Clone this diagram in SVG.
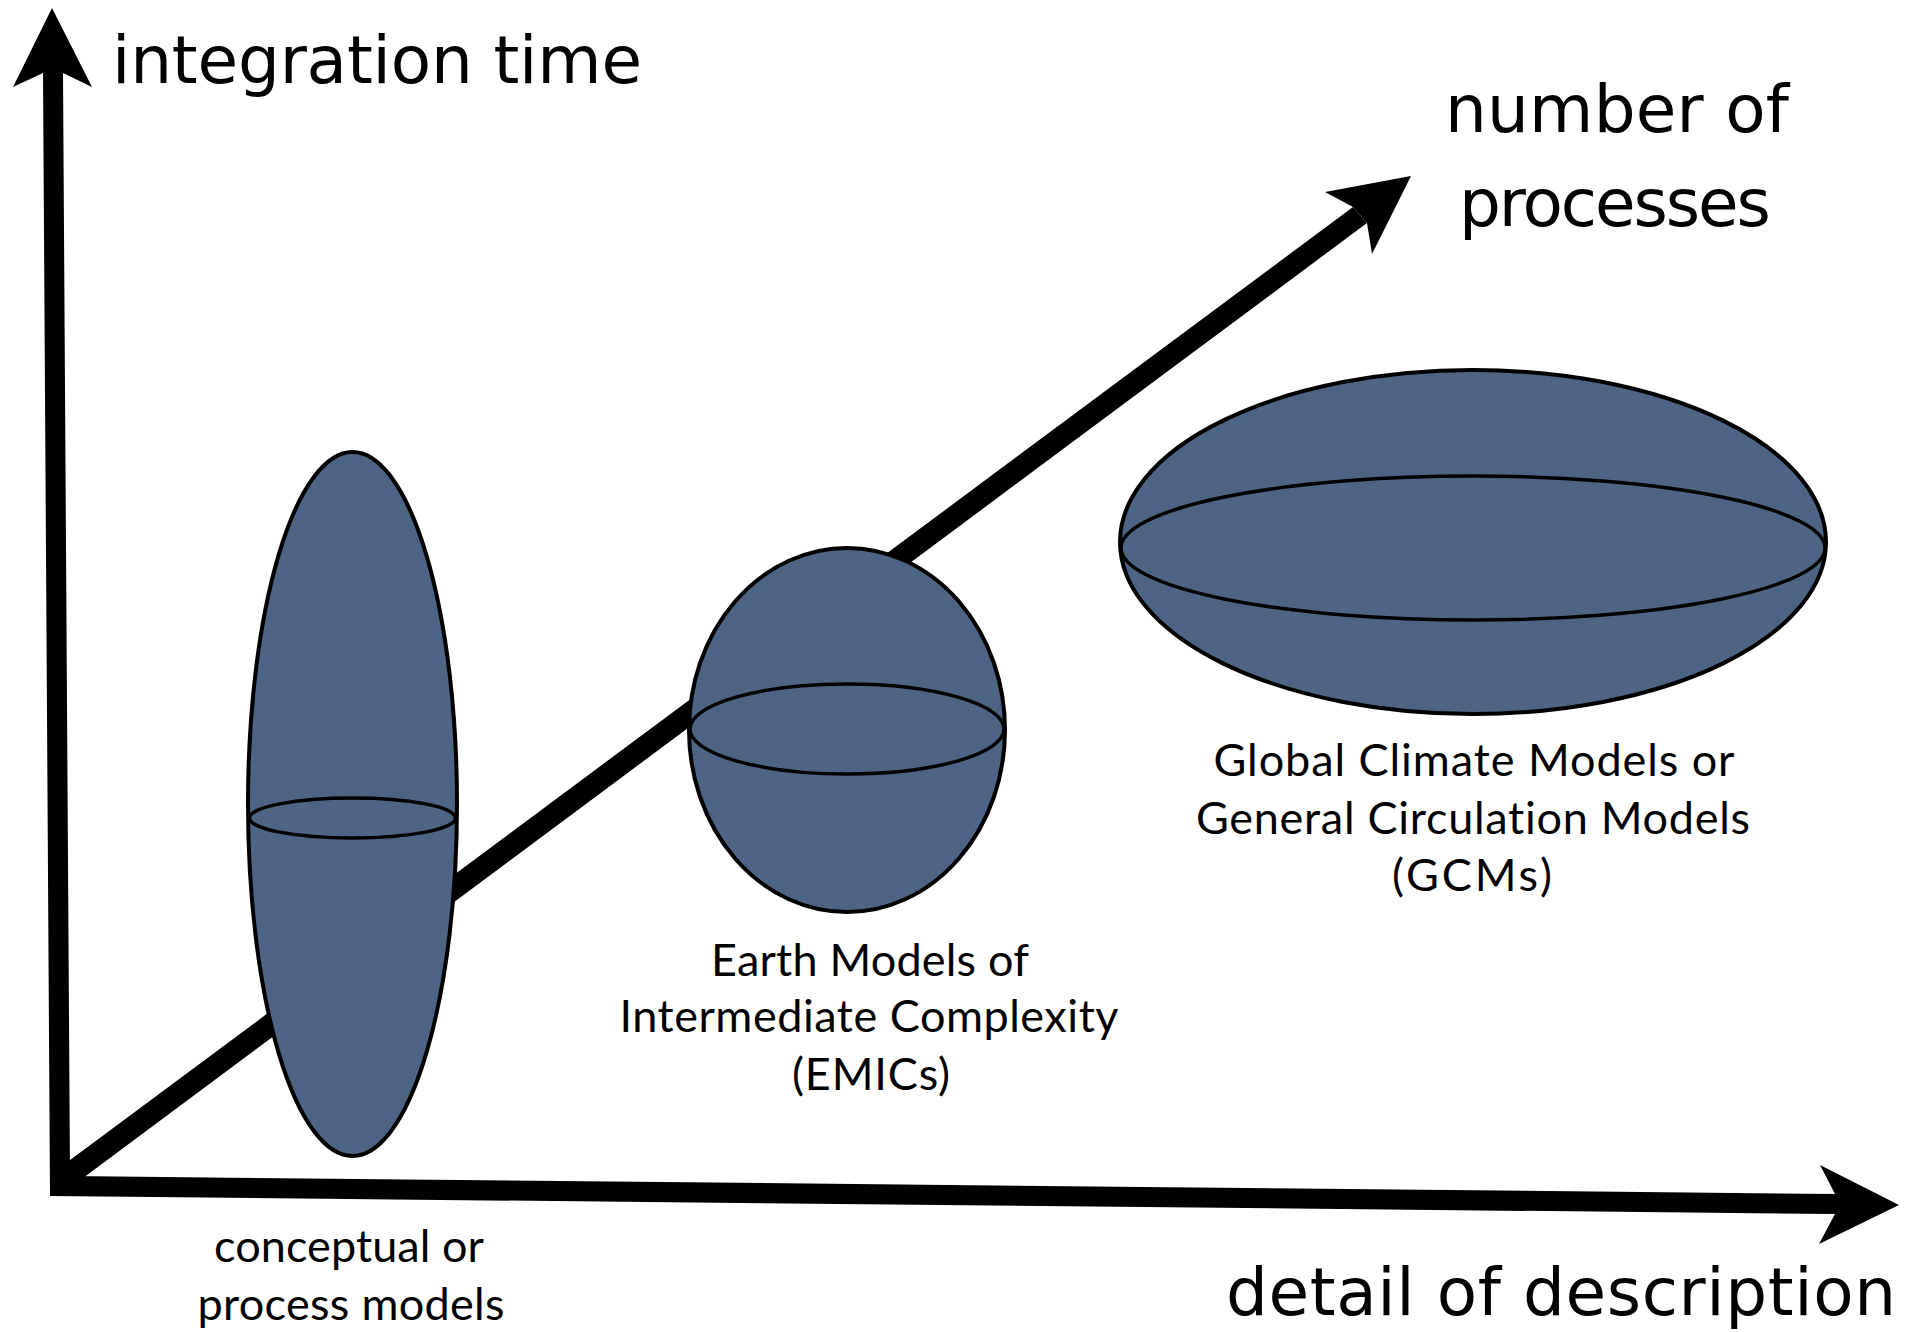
<svg xmlns="http://www.w3.org/2000/svg" width="1910" height="1332" viewBox="0 0 1910 1332">
  <style>
    .axis { fill: #000; stroke: none; }
    .body { fill: #4d6484; stroke: #000; stroke-width: 4; }
    .equator { fill: none; stroke: #000; stroke-width: 3.5; }
    .axtitle { font-family: "DejaVu Sans", "Open Sans", sans-serif; font-size: 66px; fill: #000; }
    .label { font-family: Lato, "Open Sans", sans-serif; font-size: 45px; fill: #000; text-anchor: middle; font-variant-ligatures: none; font-feature-settings: "liga" 0, "dlig" 0; }
  </style>
  <rect width="1910" height="1332" fill="#fff"/>

  <g id="connectors">
    <!-- vertical + horizontal axis frame -->
    <polygon class="axis" points="43,73 63,73 70,1176 1835,1194 1835,1214 50,1196"/>
    <polygon class="axis" points="52,8 92,87 63,73 43,73 13,87"/>
    <polygon class="axis" points="1899,1205 1819,1244 1835,1214 1835,1194 1820,1165"/>
    <!-- diagonal axis -->
    <polygon class="axis" points="1353,207 1367,223 75,1184 62,1166"/>
    <polygon class="axis" points="1411,176 1372,254 1367,223 1353,207 1325,192"/>
  </g>

  <g id="axis-titles">
    <text class="axtitle" x="112" y="83" textLength="530" lengthAdjust="spacing">integration time</text>
    <text class="axtitle" x="1445" y="132" textLength="344" lengthAdjust="spacing">number of</text>
    <text class="axtitle" x="1459" y="226" textLength="312" lengthAdjust="spacing">processes</text>
    <text class="axtitle" x="1226" y="1315" textLength="670" lengthAdjust="spacing">detail of description</text>
  </g>

  <g id="node-conceptual">
    <ellipse class="body" cx="352.5" cy="804" rx="104.5" ry="352"/>
    <ellipse class="equator" cx="352.5" cy="818" rx="103" ry="20"/>
    <text class="label" x="349" y="1262" textLength="270" lengthAdjust="spacing">conceptual or</text>
    <text class="label" x="351" y="1320" textLength="307" lengthAdjust="spacing">process models</text>
  </g>

  <g id="node-emic">
    <ellipse class="body" cx="847" cy="730" rx="158" ry="182"/>
    <ellipse class="equator" cx="847" cy="729" rx="157" ry="45"/>
    <text class="label" x="870" y="976" textLength="318" lengthAdjust="spacing">Earth Models of</text>
    <text class="label" x="869" y="1032" textLength="499" lengthAdjust="spacing">Intermediate Complexity</text>
    <text class="label" x="871" y="1090" textLength="158" lengthAdjust="spacing">(EMICs)</text>
  </g>

  <g id="node-gcm">
    <ellipse class="body" cx="1473" cy="542" rx="353" ry="172"/>
    <ellipse class="equator" cx="1473" cy="548" rx="352" ry="72"/>
    <text class="label" x="1474" y="776" textLength="521" lengthAdjust="spacing">Global Climate Models or</text>
    <text class="label" x="1473" y="834" textLength="554" lengthAdjust="spacing">General Circulation Models</text>
    <text class="label" x="1472" y="891" textLength="160" lengthAdjust="spacing">(GCMs)</text>
  </g>
</svg>
